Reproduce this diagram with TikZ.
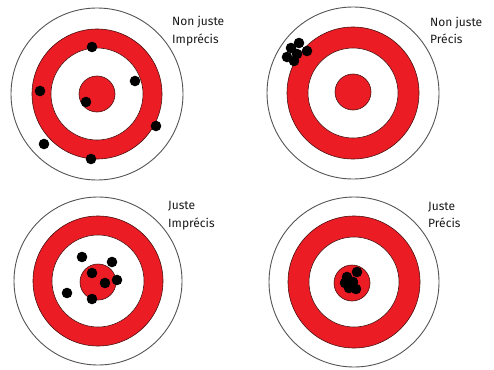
\documentclass[tikz,border=0pt]{standalone}
\usepackage{fontspec}
\setmainfont{Fira Sans}
\definecolor{tred}{HTML}{EC1C24}
\definecolor{tline}{HTML}{4A1010}
\definecolor{oline}{HTML}{555555}
\definecolor{ltext}{HTML}{1A1A1A}
\newcommand\drawtarget[7]{%
  \draw[outerring] (#1,#2) circle[radius=#3pt];
  \draw[redring] (#1,#2) circle[radius=#4pt];
  \draw[whitering] (#1,#2) circle[radius=#5pt];
  \draw[redring] (#6,#7) circle[radius=18pt];
}
\begin{document}
\begin{tikzpicture}[x=1pt,y=-1pt,
  outerring/.style={draw=oline,line width=0.9pt,fill=white},
  redring/.style={draw=tline,line width=0.6pt,fill=tred},
  whitering/.style={draw=tline,line width=0.6pt,fill=white},
  hole/.style={fill=black},
  lbl/.style={anchor=base west,inner sep=0pt,font=\fontsize{12}{14}\selectfont,text=ltext}]
\useasboundingbox (0,0) rectangle (494,369);
\fill[white] (0,0) rectangle (494,369);
% targets
\drawtarget{97}{94}{86}{65}{46}{97}{94}
\drawtarget{353}{93}{86}{66}{45}{353}{92}
\drawtarget{98}{281}{84}{65}{46}{98}{282}
\drawtarget{354}{282}{85}{66}{45}{352}{283}
% holes
\foreach \p in {(92,47),(135,81),(40,91),(86,102),(156,126),(44,144),(91,159)}
  \fill[hole] \p circle[radius=5.3pt];
\foreach \p in {(299,43),(291,48),(307,51),(297,54),(287,57),(294,61)}
  \fill[hole] \p circle[radius=5.3pt];
\foreach \p in {(82,257),(112,262),(92,273),(117,280),(105,283),(67,293),(92,299)}
  \fill[hole] \p circle[radius=5.3pt];
\foreach \p in {(357,272),(347,277),(345,283),(353,282),(349,288),(356,289),(352,285)}
  \fill[hole] \p circle[radius=5.3pt];
% labels
\node[lbl] (l1a) at (172,26) {Non juste};
\node[lbl] (l1b) at (172,43) {Imprécis};
\node[lbl] (l2a) at (430,27) {Non juste};
\node[lbl] (l2b) at (430,44) {Précis};
\node[lbl] (l3a) at (168,209) {Juste};
\node[lbl] (l3b) at (168,227) {Imprécis};
\node[lbl] (l4a) at (428,210) {Juste};
\node[lbl] (l4b) at (428,227) {Précis};
\end{tikzpicture}
\end{document}
